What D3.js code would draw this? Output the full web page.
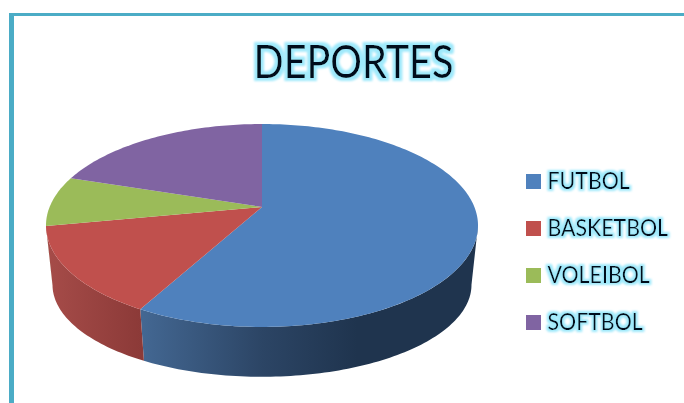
<!DOCTYPE html>
<html>
<head>
<meta charset="utf-8">
<script src="https://cdn.jsdelivr.net/npm/d3@7"></script>
<style>
    html, body { margin: 0; padding: 0; background: #fff; }
    svg { display: block; }
    text { font-family: Lato, "Open Sans", sans-serif; fill: #06101c; }
</style>
</head>
<body>
<svg id="chart"></svg>
<script>
const title = "DEPORTES";
const categories = ["FUTBOL", "BASKETBOL", "VOLEIBOL", "SOFTBOL"];
const values = [58, 14, 8, 20];
const colors = ["#4f81bd", "#c0504d", "#9bbb59", "#8064a2"];

const width = 684, height = 403;
const svg = d3.select("#chart").attr("width", width).attr("height", height);
const defs = svg.append("defs");

// glow behind the texts
function addGlow(id, grow, blur) {
    const f = defs.append("filter").attr("id", id)
        .attr("x", "-10%").attr("y", "-30%").attr("width", "120%").attr("height", "160%");
    f.append("feMorphology").attr("in", "SourceAlpha").attr("operator", "dilate")
        .attr("radius", grow).attr("result", "fat");
    f.append("feGaussianBlur").attr("in", "fat").attr("stdDeviation", blur).attr("result", "soft");
    f.append("feFlood").attr("flood-color", "#9fe9fb");
    f.append("feComposite").attr("in2", "soft").attr("operator", "in").attr("result", "glow");
    const m = f.append("feMerge");
    m.append("feMergeNode").attr("in", "glow");
    m.append("feMergeNode").attr("in", "SourceGraphic");
}
addGlow("glowBig", 3, 1.2);
addGlow("glowSmall", 2, 1.3);

// wall shading runs left to right, darker towards the right
function addWall(id, stops) {
    const g = defs.append("linearGradient").attr("id", id)
        .attr("gradientUnits", "userSpaceOnUse")
        .attr("x1", 46).attr("x2", 478).attr("y1", 0).attr("y2", 0);
    stops.forEach(s => g.append("stop").attr("offset", s[0]).attr("stop-color", s[1]));
}
addWall("wall0", [[0.2, "#456a96"], [0.5, "#2c4565"], [0.72, "#1f344e"], [1, "#1f344e"]]);
addWall("wall1", [[0, "#a64c49"], [0.22, "#8c3a38"], [1, "#8c3a38"]]);
addWall("wall2", [[0, "#7c9446"], [1, "#7c9446"]]);
addWall("wall3", [[0, "#65507f"], [1, "#65507f"]]);

// frame
svg.append("rect").attr("x", 9).attr("y", 13).attr("width", width - 9).attr("height", 3).attr("fill", "#4bacc6");
svg.append("rect").attr("x", 9).attr("y", 13).attr("width", 5).attr("height", height - 13).attr("fill", "#4bacc6");

// title
svg.append("text")
    .attr("transform", "translate(353.5,78) scale(0.86,1)")
    .attr("text-anchor", "middle")
    .attr("font-size", 46)
    .attr("filter", "url(#glowBig)")
    .text(title);

// pie in perspective: the near edge of the disc is larger than the far edge
const tilt = 0.182;
const topDisc = { cx: 262, cy: 207, rx: 212.4, ry: 98.1 };
const bottomDisc = { cx: 262, cy: 268, rx: 206, ry: 89 };

function project(disc, angle) {
    const px = Math.sin(angle), py = -Math.cos(angle);
    const w = 1 - tilt * py;
    return [disc.cx + disc.rx * px / w, disc.cy + disc.ry * py / w];
}
function arcPoints(disc, a0, a1) {
    const n = Math.max(2, Math.ceil((a1 - a0) / 0.02));
    return d3.range(n + 1).map(i => project(disc, a0 + (a1 - a0) * i / n));
}

const slices = d3.pie().sort(null).value(d => d)(values);
const line = d3.line();
const pieGroup = svg.append("g");

// only the front of the side wall shows, between the two widest points of the disc
const frontStart = Math.acos(-tilt);
const frontEnd = 2 * Math.PI - frontStart;
const wallSlices = slices
    .map(d => ({
        index: d.index,
        a0: Math.max(d.startAngle, frontStart),
        a1: Math.min(d.endAngle, frontEnd)
    }))
    .filter(d => d.a1 > d.a0);

pieGroup.selectAll("path.wall")
    .data(wallSlices)
    .join("path")
    .attr("class", "wall")
    .attr("fill", d => `url(#wall${d.index})`)
    .attr("d", d => line(arcPoints(topDisc, d.a0, d.a1)
        .concat(arcPoints(bottomDisc, d.a0, d.a1).reverse())) + "Z");

pieGroup.selectAll("path.top")
    .data(slices)
    .join("path")
    .attr("class", "top")
    .attr("fill", d => colors[d.index])
    .attr("d", d => line([[topDisc.cx, topDisc.cy]].concat(arcPoints(topDisc, d.startAngle, d.endAngle))) + "Z");

// legend
const legendY = d3.scalePoint().domain(categories).range([181.5, 322.5]);
const legend = svg.append("g").selectAll("g")
    .data(categories)
    .join("g")
    .attr("transform", d => `translate(526,${legendY(d)})`);

legend.append("rect")
    .attr("y", -7.5)
    .attr("width", 15)
    .attr("height", 15)
    .attr("fill", (d, i) => colors[i]);

legend.append("text")
    .attr("transform", "translate(21.5,7) scale(0.89,1)")
    .attr("font-size", 24)
    .attr("filter", "url(#glowSmall)")
    .text(d => d);
</script>
</body>
</html>
